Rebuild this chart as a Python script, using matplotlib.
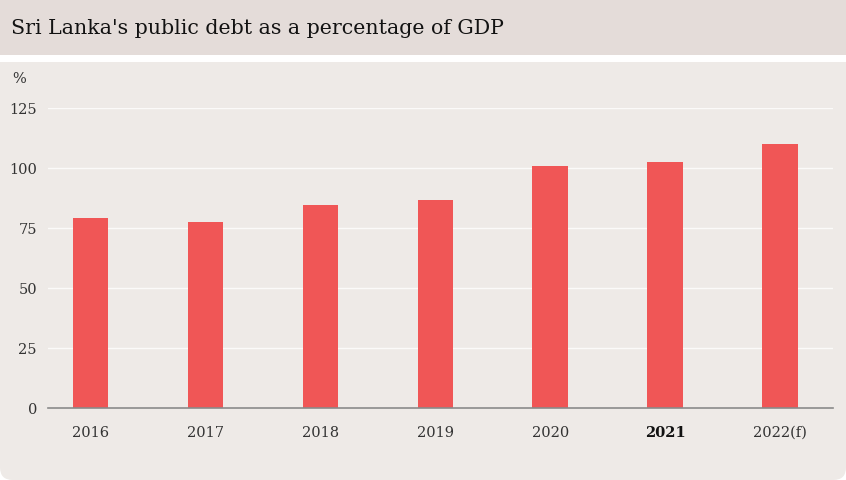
import matplotlib
matplotlib.use("Agg")
import matplotlib.pyplot as plt
from matplotlib.patches import Rectangle, FancyBboxPatch

years = ["2016", "2017", "2018", "2019", "2020", "2021", "2022(f)"]
debt_pct = [79.0, 77.7, 84.5, 86.5, 101.0, 102.7, 110.2]
yticks = [0, 25, 50, 75, 100, 125]

W, H = 846, 480
plt.rcParams['font.family'] = ['DejaVu Serif']

fig = plt.figure(figsize=(W / 100, H / 100), dpi=100)
fig.patch.set_facecolor("white")

# title bar and panel
fig.patches.append(Rectangle((0, 1 - 55 / H), 1, 55 / H, transform=fig.transFigure,
                             facecolor="#e4dcd9", edgecolor="none", zorder=-2))
fig.patches.append(FancyBboxPatch((0, 0), 1, 1 - 62 / H,
                                  boxstyle="round,pad=0,rounding_size=0.015",
                                  transform=fig.transFigure, mutation_aspect=W / H,
                                  facecolor="#eeeae7", edgecolor="none", zorder=-2))
fig.patches.append(Rectangle((0, 0.5), 1, 0.5 - 62 / H, transform=fig.transFigure,
                             facecolor="#eeeae7", edgecolor="none", zorder=-2))

fig.text(11 / W, 1 - 28 / H, "Sri Lanka's public debt as a percentage of GDP",
         fontsize=14.8, color="#121212", va="center", ha="left")
fig.text(12 / W, 1 - 79 / H, "%", fontsize=10.5, color="#333333", va="center", ha="left")

ax = fig.add_axes([48 / W, 1 - 408 / H, (833 - 48) / W, 300 / H])
ax.set_zorder(1)
ax.set_facecolor("none")
x = range(len(years))
ax.bar(x, debt_pct, width=0.31, color="#f05656", zorder=3)

ax.set_ylim(0, 125)
ax.set_xlim(-0.37, 6.46)
ax.set_yticks(yticks)
ax.set_yticklabels([str(t) for t in yticks])
ax.set_xticks(list(x))
ax.set_xticklabels(years)
ax.grid(axis="y", color="#fbfaf9", linewidth=1.0, zorder=1)
ax.tick_params(axis="both", length=0, labelsize=10.5, labelcolor="#333333")
ax.tick_params(axis="x", pad=13)
ax.tick_params(axis="y", pad=8)
for s in ["top", "right", "left"]:
    ax.spines[s].set_visible(False)
ax.spines["bottom"].set_color("#8a8a8a")
ax.spines["bottom"].set_linewidth(1.2)
ax.spines["bottom"].set_zorder(4)

lbl = ax.get_xticklabels()[5]
lbl.set_fontweight("bold")
lbl.set_color("#121212")

fig.savefig("out.png", dpi=100)
